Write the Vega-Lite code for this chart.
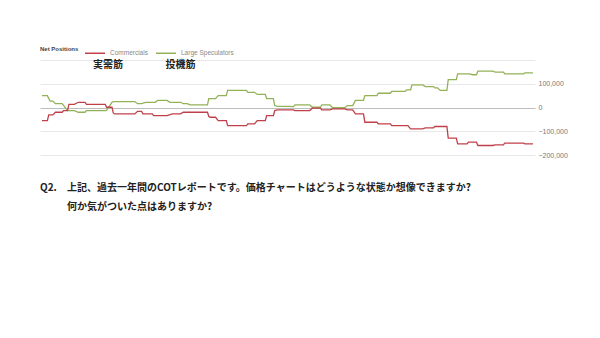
{
  "$schema": "https://vega.github.io/schema/vega-lite/v6.json",
  "width": 495,
  "height": 95,
  "autosize": {"type": "none"},
  "padding": {"left": 40, "top": 60, "right": 65, "bottom": 183},
  "background": "white",
  "config": {"view": {"stroke": null}, "font": "Liberation Sans"},
  "resolve": {"axis": {"x": "independent", "y": "independent"}},
  "datasets": {
    "cot": [
      {"day": 0, "series": "Large Speculators", "value": 50000},
      {"day": 4, "series": "Large Speculators", "value": 50000},
      {"day": 6, "series": "Large Speculators", "value": 27000},
      {"day": 8, "series": "Large Speculators", "value": 27000},
      {"day": 10, "series": "Large Speculators", "value": 16000},
      {"day": 15, "series": "Large Speculators", "value": 16000},
      {"day": 19, "series": "Large Speculators", "value": -13000},
      {"day": 24, "series": "Large Speculators", "value": -13000},
      {"day": 27, "series": "Large Speculators", "value": -20000},
      {"day": 32, "series": "Large Speculators", "value": -20000},
      {"day": 33, "series": "Large Speculators", "value": -13000},
      {"day": 47, "series": "Large Speculators", "value": -13000},
      {"day": 48, "series": "Large Speculators", "value": -12000},
      {"day": 52, "series": "Large Speculators", "value": 22000},
      {"day": 53, "series": "Large Speculators", "value": 25000},
      {"day": 69, "series": "Large Speculators", "value": 25000},
      {"day": 71, "series": "Large Speculators", "value": 16000},
      {"day": 74, "series": "Large Speculators", "value": 16000},
      {"day": 77, "series": "Large Speculators", "value": 22000},
      {"day": 84, "series": "Large Speculators", "value": 22000},
      {"day": 86, "series": "Large Speculators", "value": 30000},
      {"day": 93, "series": "Large Speculators", "value": 30000},
      {"day": 95, "series": "Large Speculators", "value": 22000},
      {"day": 103, "series": "Large Speculators", "value": 22000},
      {"day": 105, "series": "Large Speculators", "value": 16000},
      {"day": 108, "series": "Large Speculators", "value": 16000},
      {"day": 110, "series": "Large Speculators", "value": 11000},
      {"day": 123, "series": "Large Speculators", "value": 11000},
      {"day": 124, "series": "Large Speculators", "value": 37000},
      {"day": 129, "series": "Large Speculators", "value": 37000},
      {"day": 131, "series": "Large Speculators", "value": 50000},
      {"day": 137, "series": "Large Speculators", "value": 50000},
      {"day": 138, "series": "Large Speculators", "value": 72000},
      {"day": 152, "series": "Large Speculators", "value": 72000},
      {"day": 153, "series": "Large Speculators", "value": 64000},
      {"day": 158, "series": "Large Speculators", "value": 64000},
      {"day": 160, "series": "Large Speculators", "value": 55000},
      {"day": 166, "series": "Large Speculators", "value": 55000},
      {"day": 167, "series": "Large Speculators", "value": 37000},
      {"day": 172, "series": "Large Speculators", "value": 37000},
      {"day": 173, "series": "Large Speculators", "value": 8000},
      {"day": 175, "series": "Large Speculators", "value": 5000},
      {"day": 184, "series": "Large Speculators", "value": 5000},
      {"day": 186, "series": "Large Speculators", "value": 4000},
      {"day": 187, "series": "Large Speculators", "value": 4000},
      {"day": 188, "series": "Large Speculators", "value": 11000},
      {"day": 199, "series": "Large Speculators", "value": 11000},
      {"day": 201, "series": "Large Speculators", "value": 1000},
      {"day": 207, "series": "Large Speculators", "value": 1000},
      {"day": 208, "series": "Large Speculators", "value": 11000},
      {"day": 214, "series": "Large Speculators", "value": 11000},
      {"day": 216, "series": "Large Speculators", "value": -1000},
      {"day": 225, "series": "Large Speculators", "value": -1000},
      {"day": 227, "series": "Large Speculators", "value": 8000},
      {"day": 231, "series": "Large Speculators", "value": 8000},
      {"day": 233, "series": "Large Speculators", "value": 30000},
      {"day": 239, "series": "Large Speculators", "value": 30000},
      {"day": 240, "series": "Large Speculators", "value": 50000},
      {"day": 249, "series": "Large Speculators", "value": 50000},
      {"day": 250, "series": "Large Speculators", "value": 60000},
      {"day": 259, "series": "Large Speculators", "value": 60000},
      {"day": 260, "series": "Large Speculators", "value": 68000},
      {"day": 270, "series": "Large Speculators", "value": 68000},
      {"day": 271, "series": "Large Speculators", "value": 74000},
      {"day": 274, "series": "Large Speculators", "value": 74000},
      {"day": 275, "series": "Large Speculators", "value": 95000},
      {"day": 283, "series": "Large Speculators", "value": 95000},
      {"day": 285, "series": "Large Speculators", "value": 88000},
      {"day": 291, "series": "Large Speculators", "value": 88000},
      {"day": 292, "series": "Large Speculators", "value": 83000},
      {"day": 294, "series": "Large Speculators", "value": 83000},
      {"day": 296, "series": "Large Speculators", "value": 72000},
      {"day": 301, "series": "Large Speculators", "value": 72000},
      {"day": 302, "series": "Large Speculators", "value": 117000},
      {"day": 308, "series": "Large Speculators", "value": 117000},
      {"day": 309, "series": "Large Speculators", "value": 142000},
      {"day": 318, "series": "Large Speculators", "value": 142000},
      {"day": 320, "series": "Large Speculators", "value": 138000},
      {"day": 323, "series": "Large Speculators", "value": 138000},
      {"day": 324, "series": "Large Speculators", "value": 153000},
      {"day": 335, "series": "Large Speculators", "value": 153000},
      {"day": 337, "series": "Large Speculators", "value": 149000},
      {"day": 343, "series": "Large Speculators", "value": 149000},
      {"day": 344, "series": "Large Speculators", "value": 142000},
      {"day": 358, "series": "Large Speculators", "value": 142000},
      {"day": 359, "series": "Large Speculators", "value": 146000},
      {"day": 365, "series": "Large Speculators", "value": 146000},
      {"day": 0, "series": "Commercials", "value": -55000},
      {"day": 4, "series": "Commercials", "value": -55000},
      {"day": 5, "series": "Commercials", "value": -31000},
      {"day": 8, "series": "Commercials", "value": -31000},
      {"day": 10, "series": "Commercials", "value": -20000},
      {"day": 15, "series": "Commercials", "value": -20000},
      {"day": 16, "series": "Commercials", "value": -13000},
      {"day": 19, "series": "Commercials", "value": -13000},
      {"day": 20, "series": "Commercials", "value": 13000},
      {"day": 24, "series": "Commercials", "value": 13000},
      {"day": 27, "series": "Commercials", "value": 22000},
      {"day": 32, "series": "Commercials", "value": 22000},
      {"day": 33, "series": "Commercials", "value": 13000},
      {"day": 47, "series": "Commercials", "value": 13000},
      {"day": 48, "series": "Commercials", "value": 1000},
      {"day": 52, "series": "Commercials", "value": 1000},
      {"day": 53, "series": "Commercials", "value": -23000},
      {"day": 54, "series": "Commercials", "value": -27000},
      {"day": 69, "series": "Commercials", "value": -27000},
      {"day": 71, "series": "Commercials", "value": -16000},
      {"day": 74, "series": "Commercials", "value": -16000},
      {"day": 75, "series": "Commercials", "value": -27000},
      {"day": 82, "series": "Commercials", "value": -27000},
      {"day": 83, "series": "Commercials", "value": -34000},
      {"day": 93, "series": "Commercials", "value": -34000},
      {"day": 97, "series": "Commercials", "value": -27000},
      {"day": 103, "series": "Commercials", "value": -27000},
      {"day": 105, "series": "Commercials", "value": -20000},
      {"day": 123, "series": "Commercials", "value": -20000},
      {"day": 124, "series": "Commercials", "value": -38000},
      {"day": 125, "series": "Commercials", "value": -41000},
      {"day": 129, "series": "Commercials", "value": -41000},
      {"day": 131, "series": "Commercials", "value": -55000},
      {"day": 137, "series": "Commercials", "value": -55000},
      {"day": 138, "series": "Commercials", "value": -76000},
      {"day": 152, "series": "Commercials", "value": -76000},
      {"day": 153, "series": "Commercials", "value": -69000},
      {"day": 158, "series": "Commercials", "value": -69000},
      {"day": 160, "series": "Commercials", "value": -55000},
      {"day": 166, "series": "Commercials", "value": -55000},
      {"day": 167, "series": "Commercials", "value": -34000},
      {"day": 172, "series": "Commercials", "value": -34000},
      {"day": 173, "series": "Commercials", "value": -13000},
      {"day": 175, "series": "Commercials", "value": -10000},
      {"day": 187, "series": "Commercials", "value": -10000},
      {"day": 188, "series": "Commercials", "value": -13000},
      {"day": 199, "series": "Commercials", "value": -13000},
      {"day": 201, "series": "Commercials", "value": -3000},
      {"day": 207, "series": "Commercials", "value": -3000},
      {"day": 208, "series": "Commercials", "value": -10000},
      {"day": 214, "series": "Commercials", "value": -10000},
      {"day": 216, "series": "Commercials", "value": -6000},
      {"day": 225, "series": "Commercials", "value": -6000},
      {"day": 227, "series": "Commercials", "value": -10000},
      {"day": 231, "series": "Commercials", "value": -10000},
      {"day": 233, "series": "Commercials", "value": -27000},
      {"day": 239, "series": "Commercials", "value": -27000},
      {"day": 240, "series": "Commercials", "value": -62000},
      {"day": 249, "series": "Commercials", "value": -62000},
      {"day": 250, "series": "Commercials", "value": -69000},
      {"day": 259, "series": "Commercials", "value": -69000},
      {"day": 260, "series": "Commercials", "value": -76000},
      {"day": 272, "series": "Commercials", "value": -76000},
      {"day": 274, "series": "Commercials", "value": -90000},
      {"day": 283, "series": "Commercials", "value": -90000},
      {"day": 285, "series": "Commercials", "value": -86000},
      {"day": 291, "series": "Commercials", "value": -86000},
      {"day": 292, "series": "Commercials", "value": -80000},
      {"day": 301, "series": "Commercials", "value": -80000},
      {"day": 302, "series": "Commercials", "value": -129000},
      {"day": 308, "series": "Commercials", "value": -129000},
      {"day": 309, "series": "Commercials", "value": -153000},
      {"day": 316, "series": "Commercials", "value": -153000},
      {"day": 317, "series": "Commercials", "value": -146000},
      {"day": 323, "series": "Commercials", "value": -146000},
      {"day": 324, "series": "Commercials", "value": -160000},
      {"day": 335, "series": "Commercials", "value": -160000},
      {"day": 337, "series": "Commercials", "value": -157000},
      {"day": 343, "series": "Commercials", "value": -157000},
      {"day": 344, "series": "Commercials", "value": -150000},
      {"day": 358, "series": "Commercials", "value": -150000},
      {"day": 359, "series": "Commercials", "value": -153000},
      {"day": 365, "series": "Commercials", "value": -153000}
    ],
    "labels": [
      {"day": 49, "value": 177000, "text": "実需筋"},
      {"day": 103, "value": 181000, "text": "投機筋"}
    ],
    "question": [
      {"day": -1.5, "value": -337000, "text": "Q2."},
      {"day": 18.6, "value": -337000, "text": "上記、過去一年間のCOTレポートです。価格チャートはどうような状態か想像できますか?"},
      {"day": 18.6, "value": -421000, "text": "何か気がついた点はありますか?"}
    ]
  },
  "layer": [
    {
      "data": {"name": "cot"},
      "mark": {"type": "line", "strokeWidth": 1.3, "interpolate": "linear"},
      "encoding": {
        "x": {"field": "day", "type": "quantitative", "scale": {"domain": [-1.5, 366.5], "nice": false, "zero": false}, "axis": null},
        "y": {
          "field": "value", "type": "quantitative",
          "scale": {"domain": [-200000, 200000], "nice": false, "zero": false},
          "axis": {
            "orient": "right", "title": null, "values": [-200000, -100000, 0, 100000, 200000],
            "labelExpr": "datum.value == 200000 ? '' : format(datum.value, ',')",
            "domain": false, "ticks": false, "labelFontSize": 7, "labelColor": "#777", "labelPadding": 3,
            "labelFont": "Liberation Sans",
            "gridColor": {"condition": {"test": "datum.value === 0", "value": "#bdbdbd"}, "value": "#e8e8e8"},
            "gridWidth": 1
          }
        },
        "color": {
          "field": "series", "type": "nominal",
          "scale": {"domain": ["Commercials", "Large Speculators"], "range": ["#c0404a", "#93b257"]},
          "legend": {
            "orient": "none", "legendX": 0, "legendY": -18, "direction": "horizontal",
            "title": "Net Positions", "titleOrient": "left", "titleAnchor": "middle", "titleFontSize": 6, "titleFontWeight": "bold",
            "titleColor": "#444", "titlePadding": 5, "titleBaseline": "middle",
            "labelFontSize": 6.5, "labelColor": "#888", "labelOffset": 4,
            "symbolType": "stroke", "symbolSize": 400, "symbolStrokeWidth": 1.5, "columnPadding": 5
          }
        }
      }
    },
    {
      "data": {"name": "labels"},
      "mark": {"type": "text", "font": "Noto Sans CJK JP", "fontWeight": "bold", "fontSize": 10, "baseline": "middle", "align": "center", "color": "#222"},
      "encoding": {
        "x": {"field": "day", "type": "quantitative", "axis": null},
        "y": {"field": "value", "type": "quantitative", "axis": null},
        "text": {"field": "text"}
      }
    },
    {
      "data": {"name": "question"},
      "mark": {"type": "text", "font": "Noto Sans CJK JP", "fontWeight": "bold", "fontSize": 10, "baseline": "middle", "align": "left", "color": "#222"},
      "encoding": {
        "x": {"field": "day", "type": "quantitative", "axis": null},
        "y": {"field": "value", "type": "quantitative", "axis": null},
        "text": {"field": "text"}
      }
    }
  ]
}
